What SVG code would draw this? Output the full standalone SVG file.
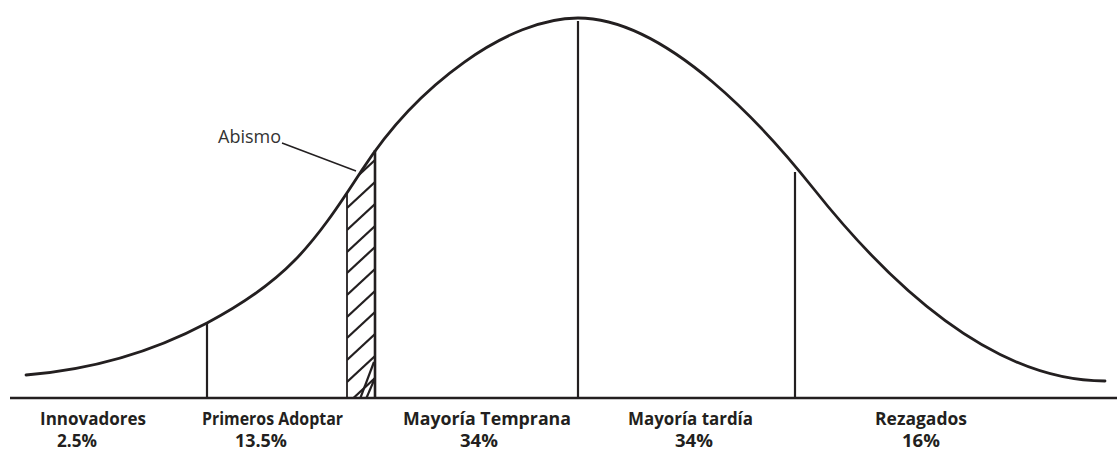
<svg xmlns="http://www.w3.org/2000/svg" width="1117" height="451" viewBox="0 0 1117 451">
  <style>
    .curve { fill: none; stroke: #231f20; stroke-width: 2.8; stroke-linecap: round; }
    .axis { stroke: #231f20; stroke-width: 2.4; }
    .div { stroke: #231f20; stroke-width: 2.2; }
    .hatch { stroke: #231f20; stroke-width: 2.2; }
    .lbl { font-family: "Open Sans", "Liberation Sans", sans-serif; font-weight: bold; font-size: 17px; fill: #231f20; }
    .note { font-family: "Open Sans", "Liberation Sans", sans-serif; font-size: 18px; fill: #333333; }
  </style>
  <defs>
    <clipPath id="band">
      <polygon points="347,193 375,150 375,398 347,398"/>
    </clipPath>
  </defs>
  <rect width="1117" height="451" fill="#ffffff"/>

  <g id="axis">
    <line class="axis" x1="10" y1="398" x2="1117" y2="398"/>
  </g>

  <g id="curve">
    <path class="curve" d="M26,375 C86,370.2 147,354.8 207,323 C285,281.7 312,247.5 362,170 C417,84.75 508,18 578,18 C668,18 768,131.3 813,188 C893,288.8 995,381 1105,381"/>
  </g>

  <g id="dividers">
    <line class="div" x1="207" y1="323" x2="207" y2="398"/>
    <line class="div" x1="578" y1="21" x2="578" y2="398"/>
    <line class="div" x1="795" y1="172" x2="795" y2="398"/>
  </g>

  <g id="abismo-band">
    <g clip-path="url(#band)">
      <line class="hatch" x1="347" y1="186" x2="375" y2="160"/>
      <line class="hatch" x1="347" y1="208" x2="375" y2="182"/>
      <line class="hatch" x1="347" y1="230" x2="375" y2="204"/>
      <line class="hatch" x1="347" y1="252" x2="375" y2="226"/>
      <line class="hatch" x1="347" y1="273" x2="375" y2="247"/>
      <line class="hatch" x1="347" y1="295" x2="375" y2="269"/>
      <line class="hatch" x1="347" y1="317" x2="375" y2="291"/>
      <line class="hatch" x1="347" y1="338" x2="375" y2="312"/>
      <line class="hatch" x1="347" y1="360" x2="375" y2="334"/>
      <line class="hatch" x1="347" y1="382" x2="375" y2="356"/>
      <line class="hatch" x1="347" y1="404" x2="375" y2="378"/>
      <line class="hatch" x1="360" y1="399" x2="374" y2="362"/>
      <line class="hatch" x1="366" y1="399" x2="375" y2="378"/>
    </g>
    <line stroke="#231f20" stroke-width="1.8" x1="347" y1="193" x2="347" y2="398"/>
    <line stroke="#231f20" stroke-width="2.6" x1="375" y1="150" x2="375" y2="398"/>
  </g>

  <g id="abismo-label">
    <text class="note" x="218" y="142.5">Abismo</text>
    <line stroke="#231f20" stroke-width="1.5" x1="282" y1="143" x2="356" y2="171"/>
  </g>

  <g id="innovadores">
    <text class="lbl" x="40" y="425" textLength="106" lengthAdjust="spacingAndGlyphs">Innovadores</text>
    <text class="lbl" x="57" y="446.5" textLength="40" lengthAdjust="spacingAndGlyphs">2.5%</text>
  </g>
  <g id="primeros">
    <text class="lbl" x="202" y="425" textLength="141" lengthAdjust="spacingAndGlyphs">Primeros Adoptar</text>
    <text class="lbl" x="235" y="446.5" textLength="52" lengthAdjust="spacingAndGlyphs">13.5%</text>
  </g>
  <g id="mayoria-temprana">
    <text class="lbl" x="403" y="425" textLength="168" lengthAdjust="spacingAndGlyphs">Mayoría Temprana</text>
    <text class="lbl" x="460" y="446.5" textLength="38" lengthAdjust="spacingAndGlyphs">34%</text>
  </g>
  <g id="mayoria-tardia">
    <text class="lbl" x="628" y="425" textLength="125" lengthAdjust="spacingAndGlyphs">Mayoría tardía</text>
    <text class="lbl" x="675" y="446.5" textLength="38" lengthAdjust="spacingAndGlyphs">34%</text>
  </g>
  <g id="rezagados">
    <text class="lbl" x="875" y="425" textLength="92" lengthAdjust="spacingAndGlyphs">Rezagados</text>
    <text class="lbl" x="902" y="446.5" textLength="38" lengthAdjust="spacingAndGlyphs">16%</text>
  </g>
</svg>
